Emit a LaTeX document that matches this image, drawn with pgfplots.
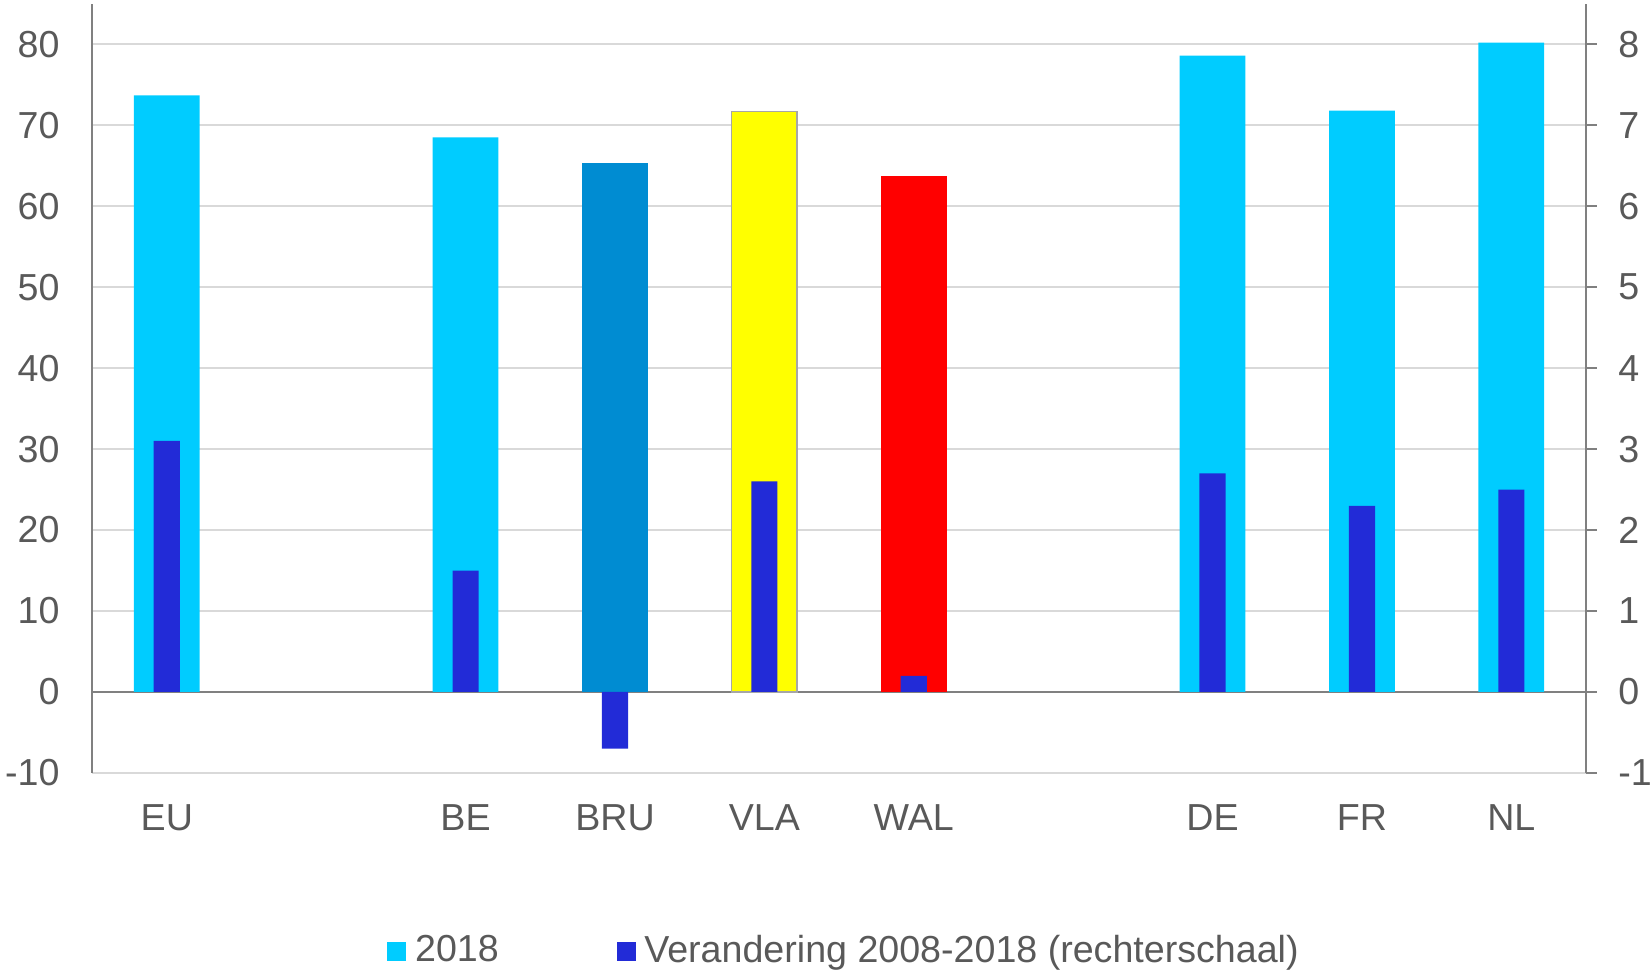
\documentclass[border=0pt]{standalone}
\usepackage{pgfplots}
\pgfplotsset{compat=1.18}
\usepackage{fontspec}
\setmainfont{Liberation Sans}
\definecolor{c2018}{RGB}{0,204,255}
\definecolor{cbru}{RGB}{0,140,210}
\definecolor{cvla}{RGB}{255,255,0}
\definecolor{cwal}{RGB}{255,0,0}
\definecolor{cchg}{RGB}{34,43,215}
\definecolor{txt}{RGB}{89,89,89}
\definecolor{gridc}{RGB}{217,217,217}
\definecolor{axc}{RGB}{128,128,128}
\begin{document}
\fontsize{10.7}{12.8}\selectfont
\begin{tikzpicture}
\pgfplotsset{
  common/.style={
    width=425pt, height=218.8pt, scale only axis,
    xmin=-0.5, xmax=9.5,
    /pgf/number format/assume math mode=true,
    tick label style={font=\fontsize{10.7}{12.8}\selectfont, text=txt},
  },
}
\begin{axis}[common,
  ymin=-10, ymax=85,
  ytick={-10,0,...,80},
  axis y line*=left, axis x line*=bottom,
  x axis line style={draw=none},
  y axis line style={draw=axc, line width=0.6pt},
  ymajorgrids, major grid style={draw=gridc, line width=0.5pt},
  ytick style={draw=none},
  xtick style={draw=none},
  xtick={0,2,3,4,5,7,8,9},
  xticklabels={EU,BE,BRU,VLA,WAL,DE,FR,NL},
  xticklabel style={yshift=-0.9pt},
  yticklabel style={xshift=-5.5pt},
  extra y ticks={0}, extra y tick labels={},
  extra y tick style={grid=major, major grid style={draw=axc, line width=0.7pt}, tick style={draw=none}},
  ybar, bar width=0.44, bar shift=0pt,
]
\addplot[fill=c2018, draw=none] coordinates {(0,73.7) (2,68.5) (7,78.6) (8,71.8) (9,80.2)};
\addplot[fill=cbru, draw=none] coordinates {(3,65.4)};
\addplot[fill=cvla, draw=gray!70, line width=0.5pt] coordinates {(4,71.7)};
\addplot[fill=cwal, draw=none] coordinates {(5,63.7)};
\coordinate (ll) at (rel axis cs:0,0);
\coordinate (ur) at (rel axis cs:1,1);
\end{axis}
\begin{axis}[common,
  ymin=-1, ymax=8.5,
  ytick={-1,0,...,8},
  axis y line*=right, axis x line=none,
  y axis line style={draw=axc, line width=0.6pt},
  tick align=outside, major tick length=3.1pt,
  ytick style={draw=axc, line width=0.6pt},
  yticklabel style={xshift=2.3pt},
  ybar, bar width=0.175, bar shift=0pt,
  legend columns=2,
  legend style={draw=none, fill=none, at={(0.505,-0.232)}, anchor=center,
    font=\fontsize{10.7}{12.8}\selectfont, text=txt,
    /tikz/every even column/.append style={column sep=31.5pt}},
  legend image code/.code={\fill[#1] (0pt,-2.7pt) rectangle (5.4pt,2.7pt);},
  legend cell align=left,
]
\addlegendimage{fill=c2018, draw=none}
\addlegendentry{\hspace{0.5pt}2018}
\addplot[fill=cchg, draw=none] coordinates {(0,3.1) (2,1.5) (3,-0.7) (4,2.6) (5,0.2) (7,2.7) (8,2.3) (9,2.5)};
\addlegendentry{\hspace{0.5pt}Verandering 2008-2018 (rechterschaal)}
\end{axis}
\pgfresetboundingbox
\path ([xshift=-26.2pt, yshift=-56.3pt]ll) rectangle ([xshift=18.2pt, yshift=1.1pt]ur);
\end{tikzpicture}
\end{document}
